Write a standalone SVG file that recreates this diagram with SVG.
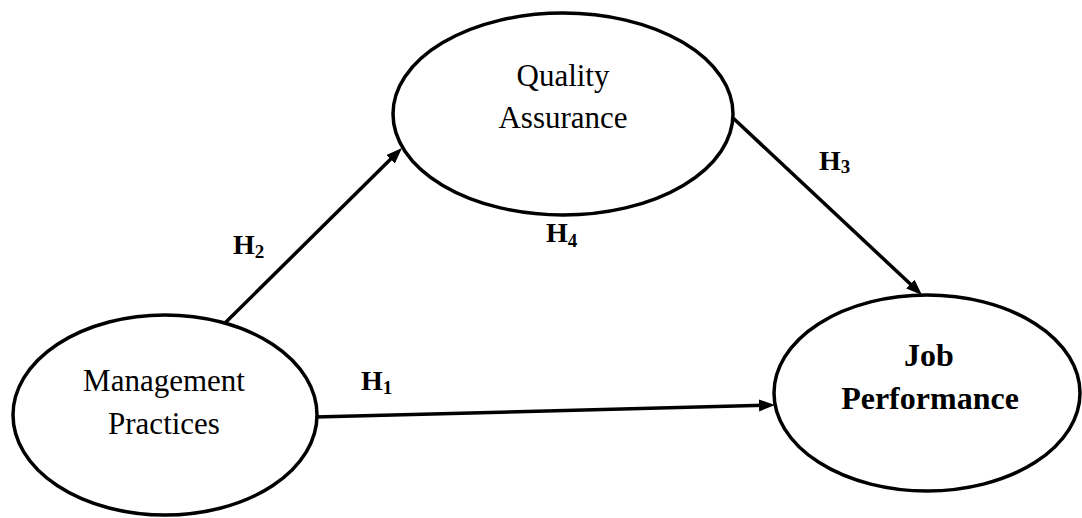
<svg xmlns="http://www.w3.org/2000/svg" width="1082" height="518" viewBox="0 0 1082 518">
  <style>
    .node { fill: #ffffff; stroke: #000000; stroke-width: 3.5; }
    .lbl { font-family: "Liberation Serif", "Times New Roman", serif; font-size: 31px; fill: #000000; text-anchor: middle; }
    .bold { font-weight: bold; font-size: 32px; }
    .h { font-family: "Liberation Serif", "Times New Roman", serif; font-size: 28px; font-weight: bold; fill: #000000; }
    .sub { font-size: 19px; }
    .edge { stroke: #000000; stroke-width: 3.5; fill: none; marker-end: url(#arrow); }
  </style>
  <defs>
    <marker id="arrow" markerUnits="userSpaceOnUse" markerWidth="18" markerHeight="14" refX="8" refY="6" orient="auto">
      <path d="M0,0 L16,6 L0,12 z" fill="#000000"/>
    </marker>
  </defs>
  <rect x="0" y="0" width="1082" height="518" fill="#ffffff"/>

  <g id="connectors">
    <line class="edge" x1="225" y1="323" x2="396.3" y2="153.6"/>
    <line class="edge" x1="733" y1="118" x2="916.2" y2="289.5"/>
    <line class="edge" x1="315" y1="417" x2="767" y2="405.2"/>
  </g>

  <g id="node-quality-assurance">
    <ellipse class="node" cx="563" cy="114" rx="170" ry="101"/>
    <text class="lbl" x="563" y="86">Quality</text>
    <text class="lbl" x="563" y="128">Assurance</text>
  </g>

  <g id="node-management-practices">
    <ellipse class="node" cx="165" cy="415" rx="152" ry="100"/>
    <text class="lbl" x="164" y="391">Management</text>
    <text class="lbl" x="164" y="434">Practices</text>
  </g>

  <g id="node-job-performance">
    <ellipse class="node" cx="927" cy="393" rx="153" ry="98"/>
    <text class="lbl bold" x="929" y="366">Job</text>
    <text class="lbl bold" x="930" y="409">Performance</text>
  </g>

  <g id="labels">
    <text class="h" x="233" y="254">H<tspan class="sub" dy="4">2</tspan></text>
    <text class="h" x="819" y="170">H<tspan class="sub" dy="3">3</tspan></text>
    <text class="h" x="546" y="242">H<tspan class="sub" dy="5">4</tspan></text>
    <text class="h" x="361" y="390">H<tspan class="sub" dy="4">1</tspan></text>
  </g>
</svg>
